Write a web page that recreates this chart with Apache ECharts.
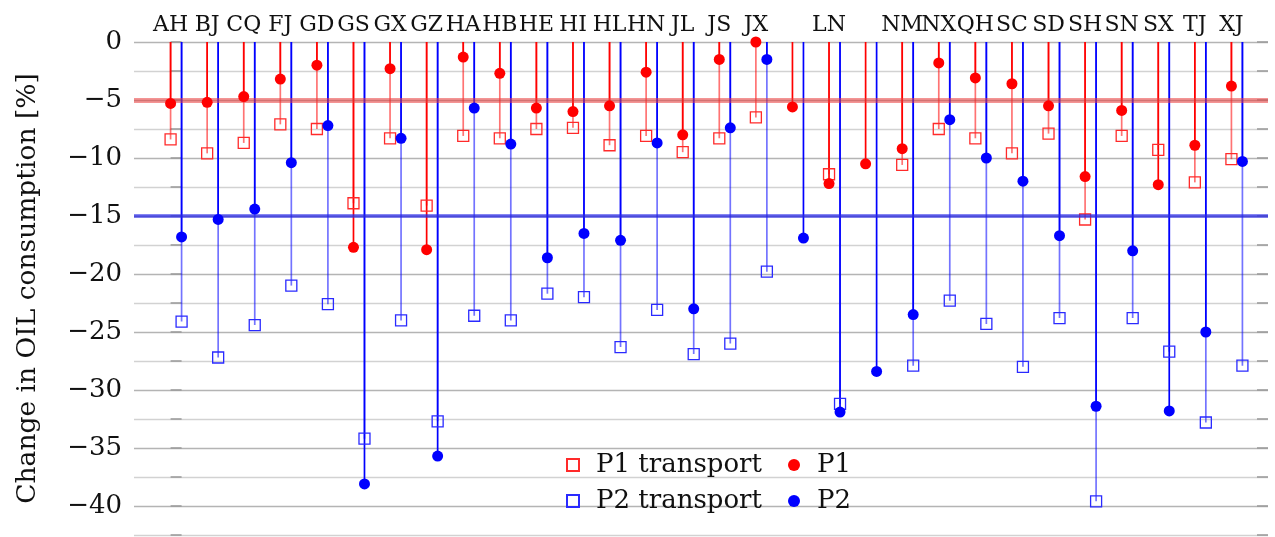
<!DOCTYPE html>
<html>
<head>
<meta charset="utf-8">
<title>Change in OIL consumption</title>
<script src="https://cdn.jsdelivr.net/npm/echarts@6/dist/echarts.min.js"></script>
<style>
html, body { margin: 0; padding: 0; background: #fff; }
#stemChart { width: 1275px; height: 537px; }
</style>
</head>
<body>
<div id="stemChart"></div>
<script>
// province codes, two groups carry no label in the original figure
let provinces = ['AH', 'BJ', 'CQ', 'FJ', 'GD', 'GS', 'GX', 'GZ', 'HA', 'HB', 'HE', 'HI', 'HL', 'HN', 'JL',
  'JS', 'JX', '', 'LN', '', 'NM', 'NX', 'QH', 'SC', 'SD', 'SH', 'SN', 'SX', 'TJ', 'XJ'];

// change in oil consumption, %
let p1 = [-5.3, -5.2, -4.7, -3.2, -2.0, -17.7, -2.3, -17.9, -1.3, -2.7, -5.7, -6.0, -5.5, -2.6, -8.0,
  -1.5, 0.0, -5.6, -12.2, -10.5, -9.2, -1.8, -3.1, -3.6, -5.5, -11.6, -5.9, -12.3, -8.9, -3.8];
let p1Transport = [-8.4, -9.6, -8.7, -7.1, -7.5, -13.9, -8.3, -14.1, -8.1, -8.3, -7.5, -7.4, -8.9, -8.1, -9.5,
  -8.3, -6.5, null, -11.4, null, -10.6, -7.5, -8.3, -9.6, -7.9, -15.3, -8.1, -9.3, -12.1, -10.1];
let p2 = [-16.8, -15.3, -14.4, -10.4, -7.2, -38.1, -8.3, -35.7, -5.7, -8.8, -18.6, -16.5, -17.1, -8.7, -23.0,
  -7.4, -1.5, -16.9, -31.9, -28.4, -23.5, -6.7, -10.0, -12.0, -16.7, -31.4, -18.0, -31.8, -25.0, -10.3];
let p2Transport = [-24.1, -27.2, -24.4, -21.0, -22.6, -34.2, -24.0, -32.7, -23.6, -24.0, -21.7, -22.0, -26.3, -23.1, -26.9,
  -26.0, -19.8, null, -31.2, null, -27.9, -22.3, -24.3, -28.0, -23.8, -39.6, -23.8, -26.7, -32.8, -27.9];

let p1Target = -5;
let p2Target = -15;

let chartContainer = document.getElementById('stemChart');
let myChart = echarts.init(chartContainer);

function toPoints(values) {
  return values.map((v, i) => [i, v]).filter(d => d[1] !== null);
}

// vertical comb line from 0 down to the value
function stemSeries(name, values, color, dx, z) {
  return {
    type: 'custom',
    name: name,
    z: z,
    silent: true,
    data: toPoints(values),
    encode: {x: 0, y: 1},
    renderItem: function (params, api) {
      let top = api.coord([api.value(0), 0]);
      let end = api.coord([api.value(0), api.value(1)]);
      return {
        type: 'line',
        shape: {x1: top[0] + dx, y1: top[1], x2: end[0] + dx, y2: end[1]},
        style: {stroke: color, lineWidth: 1.7}
      };
    }
  };
}

function markerSeries(name, values, symbol, itemStyle, dx, z) {
  return {
    type: 'scatter',
    name: name,
    z: z,
    clip: false,
    symbol: symbol,
    symbolSize: 11,
    symbolOffset: [dx, 0],
    itemStyle: Object.assign({opacity: 1}, itemStyle),
    data: toPoints(values)
  };
}

let yLabel = function (v) {
  if (v % 5 !== 0 || v < -40) return '';
  return v === 0 ? '0' : '\u2212' + Math.abs(v);
};

let red1 = stemSeries('P1 transport stem', p1Transport, 'rgba(255,0,0,0.55)', 0, 2);
red1.markLine = {
  silent: true, symbol: 'none', label: {show: false},
  data: [{yAxis: p1Target, lineStyle: {color: 'rgba(235,60,60,0.55)', width: 5, type: 'solid'}}]
};
let blue1 = stemSeries('P2 transport stem', p2Transport, 'rgba(0,0,255,0.55)', 11, 2);
blue1.markLine = {
  silent: true, symbol: 'none', label: {show: false},
  data: [{yAxis: p2Target, lineStyle: {color: 'rgba(40,40,230,0.75)', width: 3.5, type: 'solid'}}]
};

let legendText = {fontSize: 26, color: '#111', lineHeight: 30, padding: [0, 0, 0, 12]};

let option = {
  animation: false,
  textStyle: {fontFamily: 'DejaVu Serif'},
  grid: {left: 134, right: 7, top: 42, bottom: 2},
  legend: [
    {
      data: ['P1 transport', 'P2 transport'],
      orient: 'vertical',
      left: 561, top: 445,
      itemWidth: 12, itemHeight: 12, itemGap: 6,
      textStyle: legendText
    },
    {
      data: ['P1', 'P2'],
      orient: 'vertical',
      left: 783, top: 445,
      itemWidth: 12, itemHeight: 12, itemGap: 6,
      textStyle: legendText
    }
  ],
  xAxis: {
    type: 'value',
    position: 'top',
    min: -1,
    max: 30,
    interval: 1,
    axisLine: {show: false},
    axisTick: {show: false},
    splitLine: {show: false},
    axisLabel: {
      fontSize: 22,
      color: '#111',
      margin: 6,
      formatter: v => provinces[v] || ''
    }
  },
  yAxis: [
    {
      type: 'value',
      min: -42.5,
      max: 0,
      interval: 2.5,
      name: 'Change in OIL consumption [%]',
      nameLocation: 'middle',
      nameGap: 92,
      nameTextStyle: {fontSize: 26.5, color: '#111'},
      axisLine: {show: false},
      axisTick: {show: true, inside: true, length: 11, lineStyle: {color: '#999', width: 1.5}},
      axisLabel: {fontSize: 26, color: '#111', margin: 12, formatter: yLabel},
      splitLine: {show: true, lineStyle: {color: ['#d2d2d2', '#b4b4b4'], width: 1.3}}
    },
    {
      type: 'value',
      position: 'right',
      min: -42.5,
      max: 0,
      interval: 2.5,
      axisLine: {show: false},
      axisTick: {show: true, inside: true, length: 11, lineStyle: {color: '#999', width: 1.5}},
      axisLabel: {show: false},
      splitLine: {show: false}
    }
  ],
  series: [
    red1,
    blue1,
    stemSeries('P1 stem', p1, '#ff0000', 0, 3),
    stemSeries('P2 stem', p2, '#0000ff', 11, 3),
    markerSeries('P1 transport', p1Transport, 'rect',
      {color: 'rgba(0,0,0,0)', borderColor: '#ff2a2a', borderWidth: 1.3}, 0, 4),
    markerSeries('P2 transport', p2Transport, 'rect',
      {color: 'rgba(0,0,0,0)', borderColor: '#2a2aff', borderWidth: 1.3}, 11, 4),
    markerSeries('P1', p1, 'circle', {color: '#ff0000'}, 0, 5),
    markerSeries('P2', p2, 'circle', {color: '#0000ff'}, 11, 5)
  ]
};

myChart.setOption(option);
</script>
</body>
</html>
